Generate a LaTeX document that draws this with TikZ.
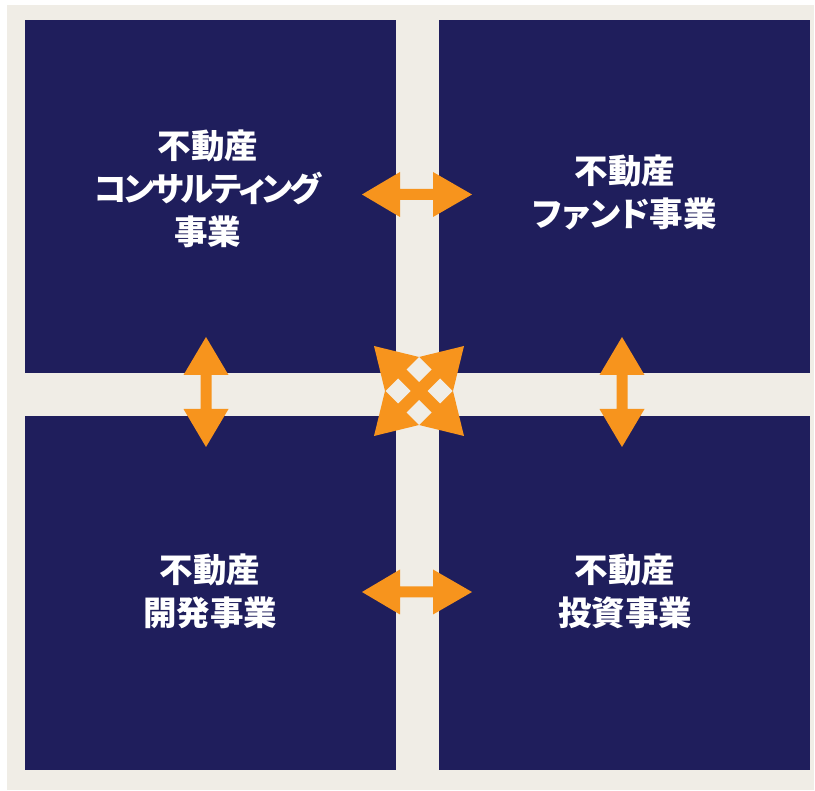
\documentclass[tikz,border=0pt]{standalone}
\usepackage{fontspec}
\newfontfamily\cjk[RawFeature=+palt]{Noto Sans CJK JP}
\definecolor{navy}{HTML}{1F1E5C}
\definecolor{beige}{HTML}{F0EDE6}
\definecolor{orng}{HTML}{F7941D}
\newcommand{\tk}{\kern-3pt}
\begin{document}
\begin{tikzpicture}[x=1pt,y=-1pt,
  quad/.style={fill=navy,draw=none},
  lbl/.style={text=white,font=\cjk\bfseries\fontsize{33.5}{43}\selectfont,align=center},
  hdarrow/.style={fill=orng,draw=none}]
\useasboundingbox (0,0) rectangle (815,791);
\fill[beige] (7,5) rectangle (814,790);
\fill[quad] (25,20) rectangle (396,373);
\fill[quad] (439,20) rectangle (810,373);
\fill[quad] (25,416) rectangle (396,770);
\fill[quad] (439,416) rectangle (810,770);
\node[lbl] (tl) at (208,189) {不動産\\コ\tk ン\tk サ\tk ル\tk テ\tk ィ\tk ン\tk グ\\事業};
\node[lbl] (tr) at (625,192) {不動産\\ファンド事業};
\node[lbl] (bl) at (210,591) {不動産\\開発事業};
\node[lbl] (br) at (625,591) {不動産\\投資事業};
% horizontal double arrows
\foreach \cy in {194.5,592} {
  \fill[hdarrow] (362,\cy) -- (400,\cy-22.5) -- (400,\cy-5.5) -- (433,\cy-5.5) -- (433,\cy-22.5)
    -- (472,\cy) -- (433,\cy+22.5) -- (433,\cy+5.5) -- (400,\cy+5.5) -- (400,\cy+22.5) -- cycle;
}
% vertical double arrows
\foreach \cx in {206,622} {
  \fill[hdarrow] (\cx,337) -- (\cx-22.5,375) -- (\cx-5.5,375) -- (\cx-5.5,409) -- (\cx-22.5,409)
    -- (\cx,447) -- (\cx+22.5,409) -- (\cx+5.5,409) -- (\cx+5.5,375) -- (\cx+22.5,375) -- cycle;
}
% central four-way arrow
\fill[hdarrow] (374,346) -- (419,357) -- (464,346) -- (453,391) -- (464,436) -- (419,425)
  -- (374,436) -- (385,391) -- cycle;
\foreach \dx/\dy in {419/369.5, 398/391, 440/391, 419/412.5} {
  \fill[beige] (\dx,\dy-12.5) -- (\dx+12.5,\dy) -- (\dx,\dy+12.5) -- (\dx-12.5,\dy) -- cycle;
}
\end{tikzpicture}
\end{document}
